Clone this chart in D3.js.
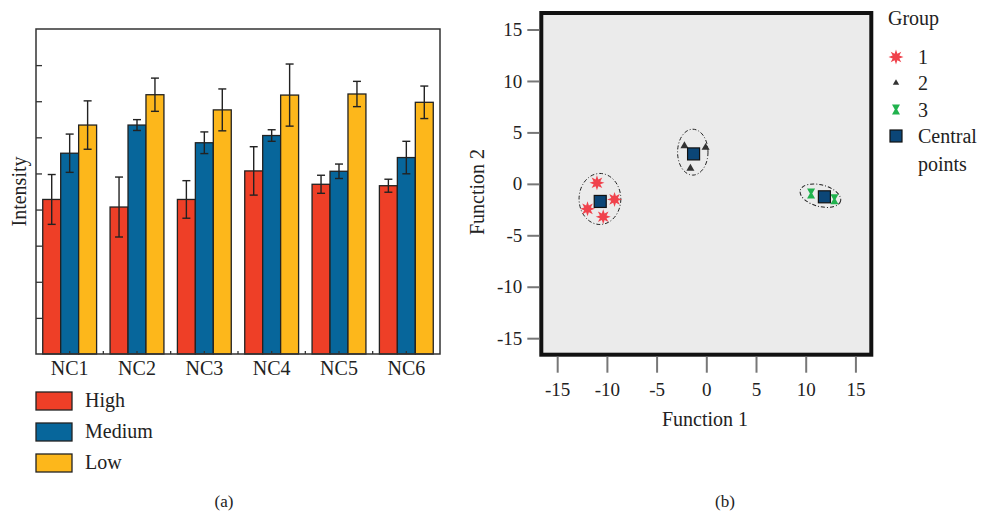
<!DOCTYPE html>
<html lang="en">
<head>
<meta charset="utf-8">
<script src="https://d3js.org/d3.v7.min.js"></script>
<style>
  body { margin: 0; background: #fff; }
  text { font-family: "Liberation Serif", "Times New Roman", serif; fill: #222; }
</style>
</head>
<body>
<div id="chart"></div>
<script>
// ---- panel (a) data: bar chart ----
var categories = ["NC1", "NC2", "NC3", "NC4", "NC5", "NC6"];
var series = ["High", "Medium", "Low"];
var highVals = [4.28, 4.07, 4.28, 5.07, 4.70, 4.66];
var highErr = [0.69, 0.83, 0.52, 0.67, 0.25, 0.18];
var mediumVals = [5.56, 6.34, 5.85, 6.05, 5.06, 5.44];
var mediumErr = [0.53, 0.15, 0.30, 0.16, 0.20, 0.45];
var lowVals = [6.34, 7.18, 6.76, 7.17, 7.20, 6.97];
var lowErr = [0.67, 0.46, 0.58, 0.86, 0.35, 0.45];
var barColors = ["#ee3f27", "#07669b", "#fdb71b"];

// ---- panel (b) data: discriminant scatter ----
var group1X = [-11.0, -11.95, -9.23, -10.37];
var group1Y = [0.1, -2.43, -1.51, -3.2];
var group2X = [-2.2, -0.07, -1.6];
var group2Y = [3.69, 3.53, 1.5];
var group3X = [10.54, 12.89];
var group3Y = [-0.93, -1.49];
var centroidX = [-10.67, -1.28, 11.88];
var centroidY = [-1.71, 2.91, -1.26];
var ellipseCX = [-10.7, -1.36, 11.48];
var ellipseCY = [-1.47, 3.08, -1.15];
var ellipseRX = [2.1, 1.53, 2.1];
var ellipseRY = [2.48, 2.23, 1.05];
var ellipseAngle = [0, 0, 15];
var axisTicks = [-15, -10, -5, 0, 5, 10, 15];
var legendLabels = ["1", "2", "3", "Central"];

var svg = d3.select("#chart").append("svg")
    .attr("width", 1003)
    .attr("height", 516);

// ================= panel (a) =================
var pLeft = 36, pRight = 440, pTop = 29, pBottom = 354;

var x0 = d3.scaleBand().domain(categories).range([pLeft, pRight])
    .paddingInner(0.2).paddingOuter(0.1);
var x1 = d3.scaleBand().domain(series).range([0, x0.bandwidth()]);
var y = d3.scaleLinear().domain([0, 9]).range([pBottom, pTop]);

var rows = categories.map(function(c, i) {
  return {
    cat: c,
    bars: [
      { s: "High", v: highVals[i], e: highErr[i] },
      { s: "Medium", v: mediumVals[i], e: mediumErr[i] },
      { s: "Low", v: lowVals[i], e: lowErr[i] }
    ]
  };
});
var color = d3.scaleOrdinal().domain(series).range(barColors);

var groups = svg.selectAll("g.grp")
    .data(rows)
    .enter().append("g")
    .attr("class", "grp")
    .attr("transform", function(d) { return "translate(" + x0(d.cat) + ",0)"; });

groups.selectAll("rect")
    .data(function(d) { return d.bars; })
    .enter().append("rect")
    .attr("x", function(d) { return x1(d.s); })
    .attr("y", function(d) { return y(d.v); })
    .attr("width", x1.bandwidth())
    .attr("height", function(d) { return y(0) - y(d.v); })
    .attr("fill", function(d) { return color(d.s); })
    .attr("stroke", "#222")
    .attr("stroke-width", 1.3);

// error bars
var eb = groups.selectAll("g.err")
    .data(function(d) { return d.bars; })
    .enter().append("g")
    .attr("class", "err")
    .attr("stroke", "#222")
    .attr("stroke-width", 1.4);
eb.append("line")
    .attr("x1", function(d) { return x1(d.s) + x1.bandwidth() / 2; })
    .attr("x2", function(d) { return x1(d.s) + x1.bandwidth() / 2; })
    .attr("y1", function(d) { return y(d.v + d.e); })
    .attr("y2", function(d) { return y(d.v - d.e); });
[1, -1].forEach(function(sign) {
  eb.append("line")
      .attr("x1", function(d) { return x1(d.s) + x1.bandwidth() / 2 - 4; })
      .attr("x2", function(d) { return x1(d.s) + x1.bandwidth() / 2 + 4; })
      .attr("y1", function(d) { return y(d.v + sign * d.e); })
      .attr("y2", function(d) { return y(d.v + sign * d.e); });
});

// frame
svg.append("rect")
    .attr("x", pLeft).attr("y", pTop)
    .attr("width", pRight - pLeft).attr("height", pBottom - pTop)
    .attr("fill", "none").attr("stroke", "#333").attr("stroke-width", 1.5);

// y ticks (inward, no labels)
var yAxis = svg.append("g")
    .attr("transform", "translate(" + pLeft + ",0)")
    .call(d3.axisLeft(y).tickValues(d3.range(1, 9)).tickSize(-6).tickFormat(""));
yAxis.select(".domain").remove();
yAxis.selectAll("line").attr("stroke", "#333").attr("stroke-width", 1.3);

// x axis labels + small inward ticks
var xAxis = svg.append("g")
    .attr("transform", "translate(0," + pBottom + ")")
    .call(d3.axisBottom(x0).tickSize(-3).tickPadding(7));
xAxis.select(".domain").remove();
xAxis.selectAll("line").attr("stroke", "#333").attr("stroke-width", 1.3);
xAxis.selectAll("text").attr("font-size", 20).style("font-family", "Liberation Serif").attr("fill", "#222");
// ticks between groups
var step = x0.step();
svg.append("g").selectAll("line")
    .data(categories.slice(1))
    .enter().append("line")
    .attr("x1", function(c) { return x0(c) - step * 0.1; })
    .attr("x2", function(c) { return x0(c) - step * 0.1; })
    .attr("y1", pBottom).attr("y2", pBottom - 3)
    .attr("stroke", "#333").attr("stroke-width", 1.3);

svg.append("text")
    .attr("transform", "translate(26," + ((pTop + pBottom) / 2) + ") rotate(-90)")
    .attr("text-anchor", "middle")
    .attr("font-size", 20)
    .text("Intensity");

// legend (a)
var legA = svg.append("g").selectAll("g")
    .data(series)
    .enter().append("g")
    .attr("transform", function(d, i) { return "translate(36," + (392 + i * 31) + ")"; });
legA.append("rect")
    .attr("width", 36).attr("height", 18)
    .attr("fill", function(d) { return color(d); })
    .attr("stroke", "#222").attr("stroke-width", 1.3);
legA.append("text")
    .attr("x", 49).attr("y", 15)
    .attr("font-size", 20)
    .text(function(d) { return d; });

svg.append("text").attr("x", 224).attr("y", 507)
    .attr("text-anchor", "middle").attr("font-size", 17).text("(a)");

// ================= panel (b) =================
var xs = d3.scaleLinear().domain([-16.8, 16.8]).range([539.3, 873.3]);
var ys = d3.scaleLinear().domain([-16.8, 16.8]).range([356.7, 11]);
var plain = function(d) { return String(d); };

svg.append("rect")
    .attr("x", xs.range()[0] + 2).attr("y", ys.range()[1] + 2)
    .attr("width", xs.range()[1] - xs.range()[0] - 4)
    .attr("height", ys.range()[0] - ys.range()[1] - 4)
    .attr("fill", "#ebebeb")
    .attr("stroke", "#111").attr("stroke-width", 4);

var ay = svg.append("g")
    .attr("transform", "translate(" + xs.range()[0] + ",0)")
    .call(d3.axisLeft(ys).tickValues(axisTicks).tickFormat(plain).tickSize(12).tickPadding(5));
ay.select(".domain").remove();
ay.selectAll("line").attr("stroke", "#777").attr("stroke-width", 2);
ay.selectAll("text").attr("font-size", 19).style("font-family", "Liberation Serif").attr("fill", "#222");

var ax = svg.append("g")
    .attr("transform", "translate(0," + ys.range()[0] + ")")
    .call(d3.axisBottom(xs).tickValues(axisTicks).tickFormat(plain).tickSize(16).tickPadding(10));
ax.select(".domain").remove();
ax.selectAll("line").attr("stroke", "#777").attr("stroke-width", 2);
ax.selectAll("text").attr("font-size", 19).style("font-family", "Liberation Serif").attr("fill", "#222");

svg.append("text").attr("x", 705).attr("y", 426)
    .attr("text-anchor", "middle").attr("font-size", 20).text("Function 1");
svg.append("text")
    .attr("transform", "translate(484,192) rotate(-90)")
    .attr("text-anchor", "middle").attr("font-size", 20).text("Function 2");

// ellipses
var kx = xs(1) - xs(0), ky = ys(0) - ys(1);
svg.append("g").selectAll("ellipse")
    .data(ellipseCX)
    .enter().append("ellipse")
    .attr("transform", function(d, i) {
      return "translate(" + xs(d) + "," + ys(ellipseCY[i]) + ") rotate(" + ellipseAngle[i] + ")";
    })
    .attr("rx", function(d, i) { return ellipseRX[i] * kx; })
    .attr("ry", function(d, i) { return ellipseRY[i] * ky; })
    .attr("fill", "none")
    .attr("stroke", "#222").attr("stroke-width", 1)
    .attr("stroke-dasharray", "4,2,1,2");

// marker shapes
function starPath(ro, ri, n) {
  var pts = [];
  for (var k = 0; k < 2 * n; k++) {
    var r = k % 2 ? ri : ro, a = Math.PI * k / n - Math.PI / 2;
    pts.push([r * Math.cos(a), r * Math.sin(a)]);
  }
  return "M" + pts.join("L") + "Z";
}
var star = starPath(7.5, 3.6, 8);
var tri = d3.symbol().type(d3.symbolTriangle).size(28)();
var hourglass = "M-4,-5L4,-5L1.2,0L4,5L-4,5L-1.2,0Z";

function plotGroup(xv, yv, path, fill) {
  svg.append("g").selectAll("path")
      .data(xv)
      .enter().append("path")
      .attr("transform", function(d, i) { return "translate(" + xs(d) + "," + ys(yv[i]) + ")"; })
      .attr("d", path)
      .attr("fill", fill);
}
plotGroup(group1X, group1Y, star, "#f0424c");
plotGroup(group2X, group2Y, tri, "#333");
plotGroup(group3X, group3Y, hourglass, "#20b24d");

svg.append("g").selectAll("rect")
    .data(centroidX)
    .enter().append("rect")
    .attr("x", function(d) { return xs(d) - 6; })
    .attr("y", function(d, i) { return ys(centroidY[i]) - 6; })
    .attr("width", 12).attr("height", 12)
    .attr("fill", "#0b4677")
    .attr("stroke", "#111").attr("stroke-width", 1.2);

// legend (b)
svg.append("text").attr("x", 888).attr("y", 25).attr("font-size", 20).text("Group");
var legShapes = [star, tri, hourglass, null];
var legFills = ["#f0424c", "#333", "#20b24d", "#0b4677"];
var legY = [57, 83, 109.5, 136];
var legB = svg.append("g").selectAll("g")
    .data(legendLabels)
    .enter().append("g")
    .attr("transform", function(d, i) { return "translate(896," + legY[i] + ")"; });
legB.each(function(d, i) {
  var g = d3.select(this);
  if (legShapes[i]) {
    g.append("path").attr("d", legShapes[i]).attr("fill", legFills[i])
        .attr("transform", i === 1 ? "scale(0.8)" : null);
  } else {
    g.append("rect").attr("x", -6).attr("y", -6).attr("width", 12).attr("height", 12)
        .attr("fill", legFills[i]).attr("stroke", "#111").attr("stroke-width", 1.2);
  }
  g.append("text").attr("x", 22).attr("y", 7).attr("font-size", 20).text(d);
});
svg.append("text").attr("x", 918).attr("y", 170.5).attr("font-size", 20).text("points");

svg.append("text").attr("x", 725).attr("y", 507)
    .attr("text-anchor", "middle").attr("font-size", 17).text("(b)");
</script>
</body>
</html>
